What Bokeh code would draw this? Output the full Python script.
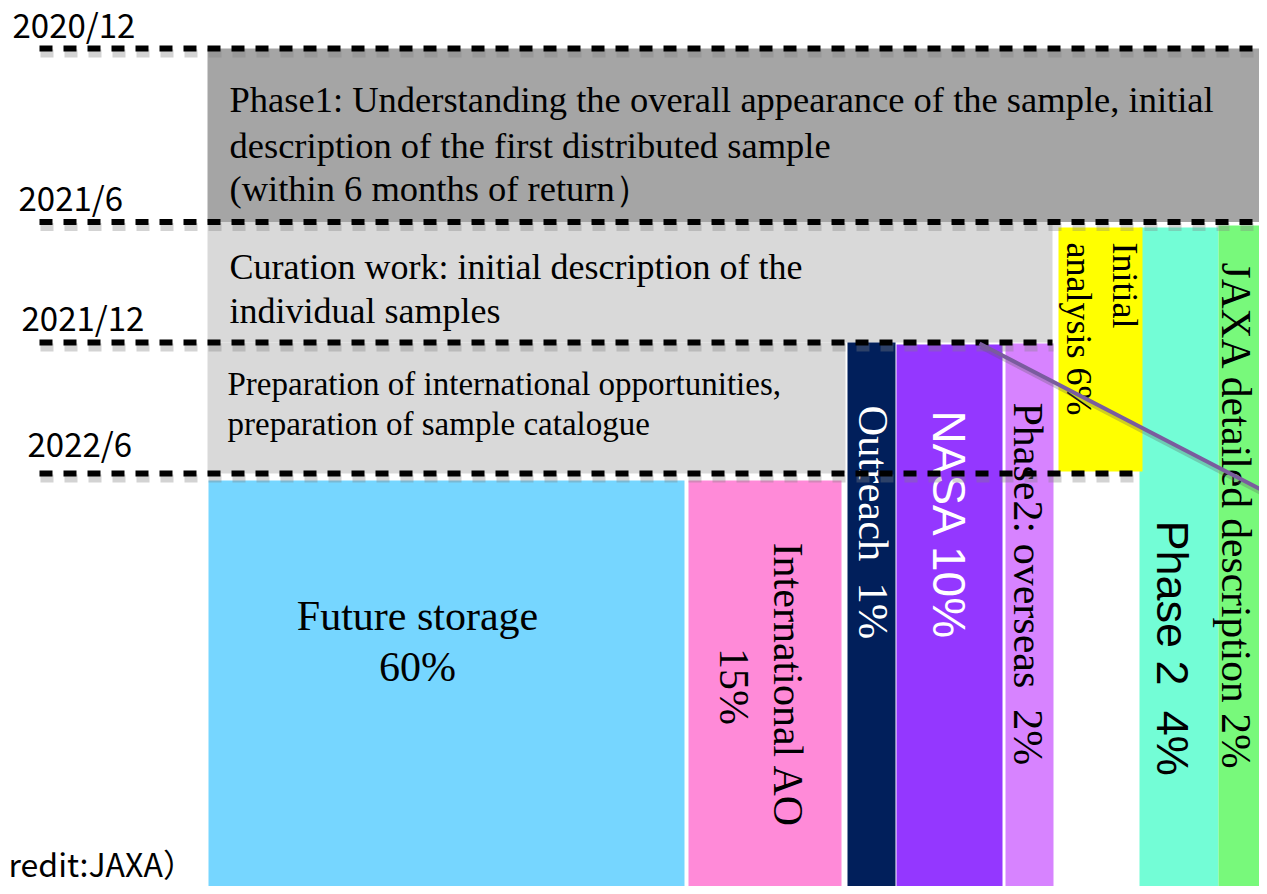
import math
from bokeh.plotting import figure
from bokeh.models import Range1d, ColumnDataSource
from bokeh.core.properties import value
from bokeh.embed import file_html
from bokeh.resources import INLINE

# ---------------- data ----------------
periods = ["2020/12", "2021/6", "2021/12", "2022/6"]
phase_texts = [
    ["Phase1: Understanding the overall appearance of the sample, initial",
     "description of the first distributed sample",
     "(within 6 months of return\uff09"],
    ["Curation work: initial description of the",
     "individual samples"],
    ["Preparation of international opportunities,",
     "preparation of sample catalogue"],
]
alloc_labels = ["Future storage", "International AO", "Outreach", "NASA",
                "Phase2: overseas", "Initial analysis", "Phase 2",
                "JAXA detailed description"]
alloc_pct = [60, 15, 1, 10, 2, 6, 4, 2]
credit = "redit:JAXA\uff09"

# ---------------- layout (diagram coordinates, px) ----------------
period_y = {"2020/12": 48, "2021/6": 221.5, "2021/12": 342, "2022/6": 473}
period_label_pos = {"2020/12": (12, 23), "2021/6": (18, 196),
                    "2021/12": (21, 316), "2022/6": (27, 442)}
dash_x_end = {"2020/12": 1267, "2021/6": 1267, "2021/12": 1052, "2022/6": 1138}
DASH_X0 = 39

phase_boxes = [  # left, right, top-period, bottom-period, colour
    (207, 1267, "2020/12", "2021/6", "#a5a5a5"),
    (207, 1052, "2021/6", "2021/12", "#d9d9d9"),
    (207, 845, "2021/12", "2022/6", "#d9d9d9"),
]
phase_text_layout = [  # x, baselines, font size
    (229, [99, 145, 188], "36.5px"),
    (229, [266, 310], "36px"),
    (227, [383, 423], "33px"),
]

# allocation boxes: left, right, top, bottom, colour
alloc_boxes = {
    "Future storage": (208, 684, 480, 891, "#76d6ff"),
    "International AO": (688, 841, 480, 892, "#ff8ad8"),
    "Outreach": (847, 895, 342, 893, "#011f5b"),
    "NASA": (896, 1002, 344, 891, "#9437ff"),
    "Phase2: overseas": (1005, 1053, 343, 890, "#d783ff"),
    "Phase 2": (1139, 1218, 227, 893, "#73fdd6"),
    "Initial analysis": (1058, 1142, 227, 471, "#ffff00"),
    "JAXA detailed description": (1218, 1267, 225, 889, "#78f97b"),
}
draw_order = ["Future storage", "International AO", "Outreach", "NASA",
              "Phase2: overseas", "Phase 2", "Initial analysis",
              "JAXA detailed description"]

SERIF = value("Liberation Serif")
SANS = value("Liberation Sans")
GOTHIC = value("Noto Sans CJK JP")
SP2 = " \u00a0"  # double space that survives SVG whitespace collapsing

p = figure(width=1259, height=886, x_range=Range1d(0, 1259),
           y_range=Range1d(886, 0), output_backend="svg",
           toolbar_location=None, min_border=0,
           x_axis_location=None, y_axis_location=None)
p.grid.visible = False
p.outline_line_color = None
p.background_fill_color = "white"
p.border_fill_color = "white"

# phase boxes
p.quad(left=[b[0] for b in phase_boxes], right=[b[1] for b in phase_boxes],
       top=[period_y[b[2]] for b in phase_boxes],
       bottom=[period_y[b[3]] for b in phase_boxes],
       fill_color=[b[4] for b in phase_boxes], line_color=None)

# allocation boxes
src = ColumnDataSource(dict(
    left=[alloc_boxes[k][0] for k in draw_order],
    right=[alloc_boxes[k][1] for k in draw_order],
    top=[alloc_boxes[k][2] for k in draw_order],
    bottom=[alloc_boxes[k][3] for k in draw_order],
    color=[alloc_boxes[k][4] for k in draw_order],
))
p.quad(left="left", right="right", top="top", bottom="bottom",
       fill_color="color", line_color=None, source=src)

# phase texts
for (x, ys, fs), lines in zip(phase_text_layout, phase_texts):
    p.text(x=[x] * len(lines), y=ys, text=lines, text_font=SERIF,
           text_font_size=fs, text_baseline="alphabetic", text_align="left",
           text_color="black")

# horizontal allocation text (Future storage)
pct = dict(zip(alloc_labels, alloc_pct))
p.text(x=[417, 417], y=[615, 666],
       text=["Future storage", f"{pct['Future storage']}%"],
       text_font=SERIF, text_font_size="42px", text_align="center",
       text_baseline="alphabetic", text_color="black")

ROT = -math.pi / 2
vert = [  # label text, x(baseline), y(start/center), font, size, colour, align
    ("International AO", 787, 685, SERIF, "42px", "black", "center"),
    (f"{pct['International AO']}%", 733, 686, SERIF, "42px", "black", "center"),
    (f"Outreach{SP2}{pct['Outreach']}%", 873, 405, SERIF, "42.5px", "white", "left"),
    (f"NASA {pct['NASA']}%", 948, 410, SANS, "46px", "white", "left"),
    (f"Phase2: overseas{SP2}{pct['Phase2: overseas']}%", 1027, 402, SERIF, "42px", "black", "left"),
    ("Initial", 1124, 242, SERIF, "36px", "black", "left"),
    (f"analysis {pct['Initial analysis']}%", 1078, 242, SERIF, "36px", "black", "left"),
    (f"Phase 2{SP2}{pct['Phase 2']}%", 1172, 520, SANS, "45px", "black", "left"),
    (f"JAXA detailed description {pct['JAXA detailed description']}%", 1235, 262, SERIF, "41.5px", "black", "left"),
]
for t, x, y, font, fs, col, al in vert:
    p.text(x=[x], y=[y], text=[t], angle=ROT, text_font=font,
           text_font_size=fs, text_color=col, text_align=al,
           text_baseline="alphabetic")

# dashed period lines with shadow
ys = [period_y[k] for k in periods]
x1s = [dash_x_end[k] for k in periods]
p.segment(x0=[DASH_X0 + 1] * 4, x1=[x + 1 for x in x1s], y0=[y + 5 for y in ys],
          y1=[y + 5 for y in ys], line_color="#808080", line_alpha=0.35,
          line_width=8, line_dash="13 11")
p.segment(x0=[DASH_X0] * 4, x1=x1s, y0=ys, y1=ys, line_color="black",
          line_width=6, line_dash="13 11")

# diagonal pointer line
p.segment(x0=[980], y0=[346], x1=[1268], y1=[496], line_color="#606060",
          line_alpha=0.3, line_width=5)
p.segment(x0=[979], y0=[343], x1=[1268], y1=[493], line_color="#7a5c9e",
          line_width=4)

# period labels
p.text(x=[period_label_pos[k][0] for k in periods],
       y=[period_label_pos[k][1] for k in periods], text=periods,
       text_font=GOTHIC, text_font_size="33px", text_baseline="alphabetic",
       text_align="left", text_color="black")

# credit
p.text(x=[8], y=[862], text=[credit], text_font=GOTHIC,
       text_font_size="32px", text_align="left", text_baseline="alphabetic",
       text_color="black")

open("out.html", "w").write(file_html(p, INLINE))
